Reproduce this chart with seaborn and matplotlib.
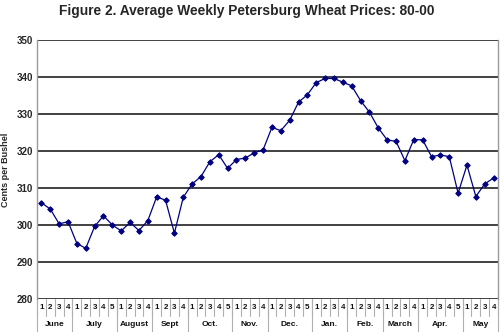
import matplotlib
matplotlib.use("Agg")
import matplotlib.pyplot as plt
import matplotlib.transforms as mtransforms
import numpy as np
import pandas as pd
import seaborn as sns

# Marketing-year months and how many weekly observations each one has
months = ["June", "July", "August", "Sept", "Oct.", "Nov.", "Dec.",
          "Jan.", "Feb.", "March", "Apr.", "May"]
weeks_per_month = [4, 5, 4, 4, 5, 4, 5, 4, 4, 4, 5, 4]

# Average weekly price, cents per bushel
prices = [
    306.0, 304.3, 300.3, 300.9,              # June
    295.0, 293.7, 299.6, 302.5, 300.0,       # July
    298.4, 300.7, 298.5, 301.2,              # August
    307.6, 306.7, 297.8, 307.5,              # Sept
    311.1, 313.1, 317.1, 319.0, 315.3,       # Oct.
    317.7, 318.1, 319.5, 320.3,              # Nov.
    326.4, 325.5, 328.3, 333.2, 335.2,       # Dec.
    338.5, 339.6, 339.6, 338.6,              # Jan.
    337.6, 333.6, 330.5, 326.2,              # Feb.
    323.0, 322.6, 317.4, 323.1,              # March
    323.0, 318.5, 318.9, 318.5, 308.6,       # Apr.
    316.2, 307.7, 311.1, 312.7,              # May
]

y_ticks = [280, 290, 300, 310, 320, 330, 340, 350]

week_labels = [str(w) for n in weeks_per_month for w in range(1, n + 1)]
df = pd.DataFrame({"pos": np.arange(len(prices)), "price": prices})

sns.set_theme(style="white")
plt.rcParams["font.family"] = ["Liberation Sans", "DejaVu Sans"]

fig = plt.figure(figsize=(5.0, 3.32), dpi=100)
ax = fig.add_axes([0.074, 0.0994, 0.922, 0.7801])

sns.lineplot(data=df, x="pos", y="price", ax=ax, color="#000080",
             linewidth=0.9, marker="D", markersize=2.8,
             markeredgecolor="#000080", markerfacecolor="#000080")

ax.set_xlim(-0.5, len(prices) - 0.5)
ax.set_ylim(y_ticks[0], y_ticks[-1])
ax.set_yticks(y_ticks)
ax.set_yticklabels([str(t) for t in y_ticks], fontsize=7, fontweight="bold")
ax.tick_params(axis="y", length=0, pad=3)

# Horizontal gridlines
for t in y_ticks:
    ax.axhline(t, color="#333333", linewidth=1.3, zorder=0)

ax.set_xlabel("")
ax.set_ylabel("Cents per Bushel", fontsize=6.5, fontweight="bold")
ax.yaxis.set_label_coords(-0.058, 0.5)

for side in ["top", "bottom"]:
    ax.spines[side].set_visible(False)
ax.spines["left"].set_color("#999999")
ax.spines["left"].set_linewidth(1.0)
ax.spines["right"].set_color("#999999")
ax.spines["right"].set_linewidth(1.0)

# Two-level category axis: week numbers, then months
ax.set_xticks([])
trans = mtransforms.blended_transform_factory(ax.transData, ax.transAxes)
px = 1.0 / (ax.get_position().height * fig.get_figheight() * fig.dpi)
row1 = 17 * px
row2 = 34 * px

for i, lab in enumerate(week_labels):
    ax.text(i, -row1 / 2, lab, transform=trans, ha="center", va="center",
            fontsize=5.8, fontweight="bold", color="#111111")

boundaries = np.cumsum([0] + weeks_per_month) - 0.5
for i in range(len(prices) + 1):
    ax.plot([i - 0.5, i - 0.5], [0, -row1], transform=trans, clip_on=False,
            color="#b0b0b0", linewidth=0.8)
for b in boundaries:
    ax.plot([b, b], [0, -row2], transform=trans, clip_on=False,
            color="#b0b0b0", linewidth=0.8)
for m, lo, hi in zip(months, boundaries[:-1], boundaries[1:]):
    ax.text((lo + hi) / 2, -(row1 + row2) / 2, m, transform=trans,
            ha="center", va="center", fontsize=6, fontweight="bold",
            color="#111111")

fig.text(0.493, 0.968, "Figure 2. Average Weekly Petersburg Wheat Prices: 80-00",
         ha="center", va="center", fontsize=9.9, fontweight="bold")

fig.savefig("out.png", dpi=100)
